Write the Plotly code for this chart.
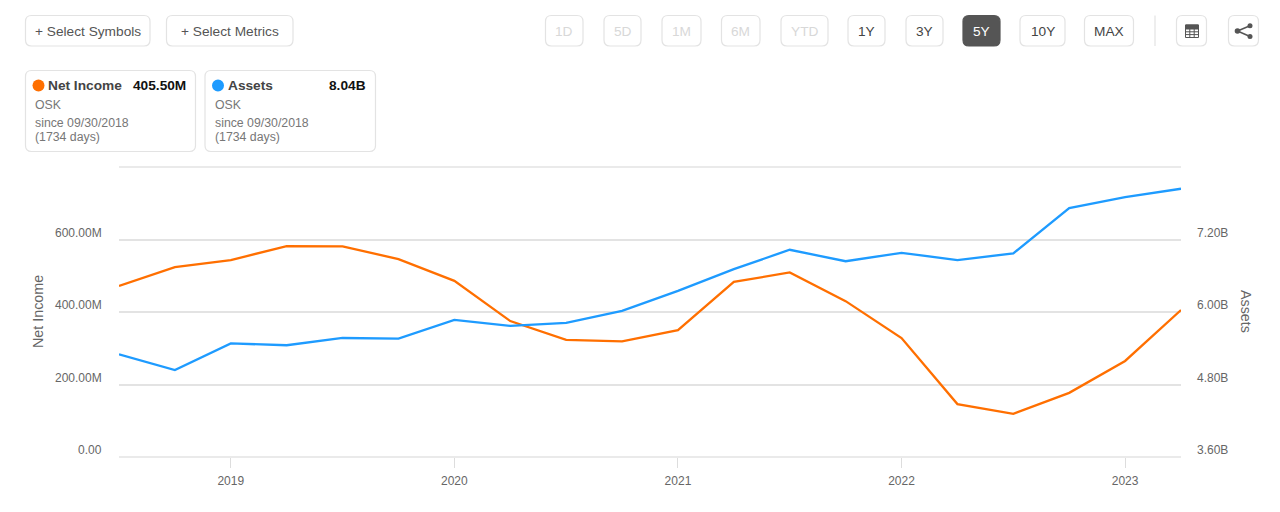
import plotly.graph_objects as go

# quarterly values
quarters = ['2018-07', '2018-10', '2019-01', '2019-04', '2019-07',
            '2019-10', '2020-01', '2020-04', '2020-07', '2020-10',
            '2021-01', '2021-04', '2021-07', '2021-10', '2022-01',
            '2022-04', '2022-07', '2022-10', '2023-01', '2023-04']
net_income = [472, 524, 543, 582, 581, 546, 486, 375, 323, 319,
              350, 483, 509, 430, 328, 146, 119, 177, 265, 405.5]
assets = [5.30, 5.04, 5.48, 5.45, 5.57, 5.56, 5.87, 5.77, 5.82, 6.02,
          6.35, 6.71, 7.03, 6.84, 6.98, 6.86, 6.97, 7.72, 7.90, 8.04]

x_ticks = ['2019-01', '2020-01', '2021-01', '2022-01', '2023-01']
x_labels = ['2019', '2020', '2021', '2022', '2023']
left_ticks = [0, 200, 400, 600]
left_labels = ['0.00', '200.00M', '400.00M', '600.00M']
right_ticks = [3.6, 4.8, 6.0, 7.2]
right_labels = ['3.60B', '4.80B', '6.00B', '7.20B']

# page layout in pixels
W, H = 1280, 512
L, R, T, B = 119, 1181, 167, 457
FONT = 'Liberation Sans, Arial, sans-serif'
ORANGE = '#ff6f00'
BLUE = '#1e9bff'
BORDER = '#e3e3e3'


def px(x):
    return (x - L) / (R - L)


def py(y):
    return (B - y) / (B - T)


def round_rect(x0, y0, x1, y1, r=6):
    a, b, c, d = px(x0), px(x1), py(y0), py(y1)
    ax, bx = px(x0 + r), px(x1 - r)
    cy, dy = py(y0 + r), py(y1 - r)
    return (f'M{ax},{c} L{bx},{c} Q{b},{c} {b},{cy} L{b},{dy} Q{b},{d} {bx},{d} '
            f'L{ax},{d} Q{a},{d} {a},{dy} L{a},{cy} Q{a},{c} {ax},{c} Z')


fig = go.Figure()
fig.add_trace(go.Scatter(x=quarters, y=net_income, mode='lines', name='Net Income',
                         line=dict(color=ORANGE, width=2.3), yaxis='y'))
fig.add_trace(go.Scatter(x=quarters, y=assets, mode='lines', name='Assets',
                         line=dict(color=BLUE, width=2.3), yaxis='y2'))

shapes = []
annotations = []


def box(x0, y0, x1, y1, fill='white', line=BORDER):
    shapes.append(dict(type='path', path=round_rect(x0, y0, x1, y1), xref='paper', yref='paper',
                       fillcolor=fill, line=dict(color=line, width=1.2)))


def label(x, y, text, size=12, color='#666666', anchor='left', angle=0):
    annotations.append(dict(x=px(x), y=py(y), xref='paper', yref='paper', text=text, showarrow=False,
                            xanchor=anchor, yanchor='middle', textangle=angle,
                            font=dict(family=FONT, size=size, color=color)))


# top left buttons
box(25.5, 15.5, 150, 46)
label(88, 31, '+ Select Symbols', 13.7, '#555555', 'center')
box(166.5, 15.5, 293, 46)
label(230, 31, '+ Select Metrics', 13.7, '#555555', 'center')

# range buttons
range_buttons = [('1D', 545.5, 583, 0), ('5D', 604, 641, 0), ('1M', 662, 701, 0), ('6M', 721.5, 760, 0),
                 ('YTD', 781, 828, 0), ('1Y', 848, 885, 1), ('3Y', 906, 943, 1), ('5Y', 963, 1000, 2),
                 ('10Y', 1020, 1065, 1), ('MAX', 1084.5, 1133.5, 1)]
for text, x0, x1, state in range_buttons:
    if state == 2:
        box(x0, 15.5, x1, 46, fill='#555555', line='#555555')
    else:
        box(x0, 15.5, x1, 46)
    color = {0: '#d8d8d8', 1: '#444444', 2: '#ffffff'}[state]
    label((x0 + x1) / 2, 31, text, 13.7, color, 'center')

shapes.append(dict(type='line', xref='paper', yref='paper', x0=px(1155), x1=px(1155), y0=py(15.5), y1=py(46),
                   line=dict(color=BORDER, width=1.2)))

# table icon
box(1176.5, 15.5, 1206.5, 46)
shapes.append(dict(type='rect', xref='paper', yref='paper', x0=px(1185.5), x1=px(1198.5), y0=py(25), y1=py(37.5),
                   fillcolor='white', line=dict(color='#555555', width=1)))
shapes.append(dict(type='rect', xref='paper', yref='paper', x0=px(1185.5), x1=px(1198.5), y0=py(25), y1=py(29),
                   fillcolor='#555555', line=dict(color='#555555', width=1)))
for gx in (1189.8, 1194.2):
    shapes.append(dict(type='line', xref='paper', yref='paper', x0=px(gx), x1=px(gx), y0=py(29), y1=py(37.5),
                       line=dict(color='#555555', width=1)))
for gy in (31.8, 34.6):
    shapes.append(dict(type='line', xref='paper', yref='paper', x0=px(1185.5), x1=px(1198.5), y0=py(gy), y1=py(gy),
                       line=dict(color='#555555', width=1)))

# share icon
box(1228.5, 15.5, 1258.5, 46)
for x0, y0, x1, y1 in [(1237.5, 31, 1250, 25.7), (1237.5, 31, 1250, 36.5)]:
    shapes.append(dict(type='line', xref='paper', yref='paper', x0=px(x0), x1=px(x1), y0=py(y0), y1=py(y1),
                       line=dict(color='#555555', width=1.5)))
for cx, cy, r in [(1237.5, 31, 2.8), (1250, 25.7, 2.5), (1250, 36.5, 2.5)]:
    shapes.append(dict(type='circle', xref='paper', yref='paper', x0=px(cx - r), x1=px(cx + r),
                       y0=py(cy - r), y1=py(cy + r), fillcolor='#555555', line=dict(width=0)))

# metric cards
cards = [(25.5, 195.5, ORANGE, 'Net Income', '405.50M'), (205, 375.5, BLUE, 'Assets', '8.04B')]
for x0, x1, color, name, value in cards:
    box(x0, 70.5, x1, 151.5)
    shapes.append(dict(type='circle', xref='paper', yref='paper', x0=px(x0 + 7), x1=px(x0 + 19),
                       y0=py(79.5), y1=py(91.5), fillcolor=color, line=dict(width=0)))
    label(x0 + 20.5, 85.5, f'<b>{name}</b>', 13.7, '#444444')
    label(x1 - 8, 85.5, f'<b>{value}</b>', 13.7, '#111111', 'right')
    label(x0 + 7.5, 104.5, 'OSK', 12.3, '#777777')
    label(x0 + 7.5, 123, 'since 09/30/2018', 12.3, '#777777')
    label(x0 + 7.5, 136.5, '(1734 days)', 12.3, '#777777')

# bottom and top grid lines fall on the range ends, plotly skips those
for edge in (0, 1):
    shapes.append(dict(type='line', xref='paper', yref='paper', x0=0, x1=1, y0=edge, y1=edge,
                       line=dict(color='#e3e3e3', width=1.6)))

# tick labels sit above their grid lines, so they go in as annotations
for value, text in zip(left_ticks, left_labels):
    annotations.append(dict(x=px(104), xref='paper', y=value, yref='y', yshift=7, text=text, showarrow=False,
                            xanchor='right', yanchor='middle', font=dict(family=FONT, size=12, color='#666666')))
for value, text in zip(right_ticks, right_labels):
    annotations.append(dict(x=px(1195), xref='paper', y=value, yref='y2', yshift=7, text=text, showarrow=False,
                            xanchor='left', yanchor='middle', font=dict(family=FONT, size=12, color='#666666')))

label(38, 312, 'Net Income', 14.3, '#666666', 'center', -90)
label(1246, 311, 'Assets', 14.3, '#666666', 'center', 90)

fig.update_layout(
    width=W, height=H,
    margin=dict(l=L, r=W - R, t=T, b=H - B, autoexpand=False),
    paper_bgcolor='white', plot_bgcolor='white',
    showlegend=False, hovermode='x',
    shapes=shapes, annotations=annotations,
    font=dict(family=FONT, size=12, color='#666666'),
    xaxis=dict(type='category', categoryorder='array', categoryarray=quarters, range=[0, len(quarters) - 1],
               tickmode='array', tickvals=x_ticks, ticktext=x_labels,
               showgrid=False, showline=False, zeroline=False,
               ticks='outside', ticklen=10, tickwidth=1, tickcolor='#dddddd', ticklabelstandoff=3,
               tickfont=dict(size=12, color='#666666')),
    yaxis=dict(range=[0, 800], tickmode='array', tickvals=[200, 400, 600], showticklabels=False,
               showgrid=True, gridcolor='#e3e3e3', gridwidth=1.6, zeroline=False, showline=False, ticks=''),
    yaxis2=dict(range=[3.6, 8.4], overlaying='y', side='right', tickmode='array', tickvals=right_ticks,
                showticklabels=False, showgrid=False, zeroline=False, showline=False, ticks=''),
)

fig.write_html("out.html", config={'displayModeBar': False}, post_script="document.body.style.margin='0';")
